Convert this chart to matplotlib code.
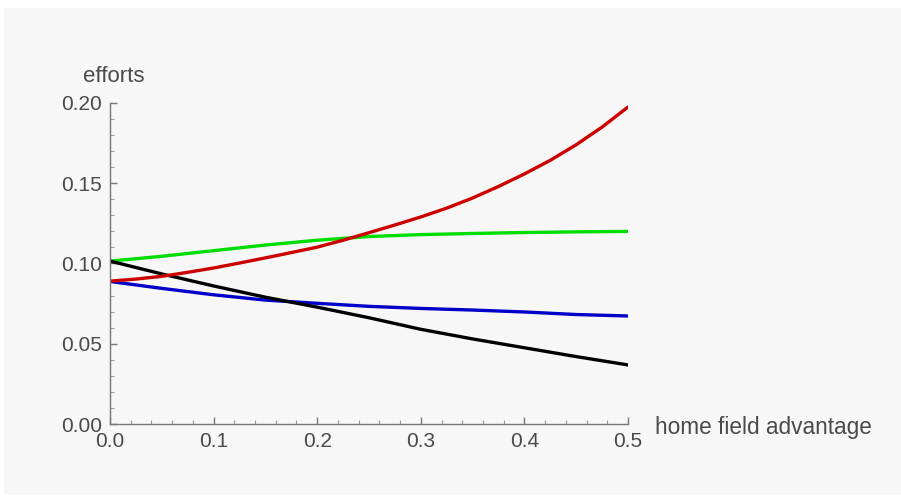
import matplotlib
matplotlib.use("Agg")
import matplotlib.pyplot as plt
from matplotlib.patches import Rectangle
from matplotlib.ticker import MultipleLocator, FormatStrFormatter

x = [0.0, 0.05, 0.1, 0.15, 0.2, 0.25, 0.3, 0.35, 0.4, 0.45, 0.5]
green = [0.1015, 0.1045, 0.1080, 0.1115, 0.1145, 0.1168, 0.1180, 0.1187, 0.1193, 0.1197, 0.1200]
blue = [0.0888, 0.0845, 0.0805, 0.0772, 0.0752, 0.0733, 0.0720, 0.0710, 0.0698, 0.0682, 0.0673]
black = [0.1015, 0.0935, 0.0860, 0.0790, 0.0728, 0.0662, 0.0590, 0.0530, 0.0475, 0.0420, 0.0368]

x_red = [0.0, 0.025, 0.05, 0.075, 0.1, 0.125, 0.15, 0.175, 0.2, 0.225, 0.25,
         0.275, 0.3, 0.325, 0.35, 0.375, 0.4, 0.425, 0.45, 0.475, 0.5]
red = [0.0890, 0.0903, 0.0920, 0.0945, 0.0972, 0.1003, 0.1035, 0.1068, 0.1102, 0.1145, 0.1192,
       0.1240, 0.1290, 0.1345, 0.1408, 0.1480, 0.1558, 0.1643, 0.1740, 0.1850, 0.1975]

plt.rcParams['font.family'] = ['Liberation Sans', 'DejaVu Sans']

W, H = 901, 498
fig = plt.figure(figsize=(W / 100, H / 100), dpi=100, facecolor='white')
fig.patches.append(Rectangle((4 / W, 3 / H), 1 - 4 / W, 1 - 11 / H, transform=fig.transFigure,
                             facecolor='#f7f7f7', edgecolor='none', zorder=-10))

ax = fig.add_axes([110 / W, (H - 424) / H, (628 - 110) / W, (424 - 103) / H])
ax.set_facecolor('none')
ax.set_xlim(0, 0.5)
ax.set_ylim(0, 0.2)

lw = 2.4
ax.plot(x, green, color='#00dd00', lw=lw, solid_capstyle='round', solid_joinstyle='round')
ax.plot(x, blue, color='#0000c8', lw=lw, solid_capstyle='round', solid_joinstyle='round')
ax.plot(x, black, color='#000000', lw=lw, solid_capstyle='round', solid_joinstyle='round')
ax.plot(x_red, red, color='#cc0000', lw=lw, solid_capstyle='round', solid_joinstyle='round')

for s in ['top', 'right']:
    ax.spines[s].set_visible(False)
for s in ['left', 'bottom']:
    ax.spines[s].set_color('#777777')
    ax.spines[s].set_linewidth(1.0)

ax.xaxis.set_major_locator(MultipleLocator(0.1))
ax.xaxis.set_minor_locator(MultipleLocator(0.02))
ax.yaxis.set_major_locator(MultipleLocator(0.05))
ax.yaxis.set_minor_locator(MultipleLocator(0.01))
ax.xaxis.set_major_formatter(FormatStrFormatter('%.1f'))
ax.yaxis.set_major_formatter(FormatStrFormatter('%.2f'))
ax.tick_params(which='major', direction='in', length=5, width=1, color='#777777',
               labelsize=15, labelcolor='#4a4a4a', pad=6)
ax.tick_params(which='minor', direction='in', length=3, width=0.8, color='#999999')

fig.text(83 / W, 1 - 76 / H, 'efforts', fontsize=16, color='#4a4a4a', va='center', ha='left')
fig.text(655 / W, 1 - 427 / H, 'home field advantage', fontsize=16.3, color='#4a4a4a',
         va='center', ha='left')

fig.savefig('out.png', dpi=100, facecolor=fig.get_facecolor())
